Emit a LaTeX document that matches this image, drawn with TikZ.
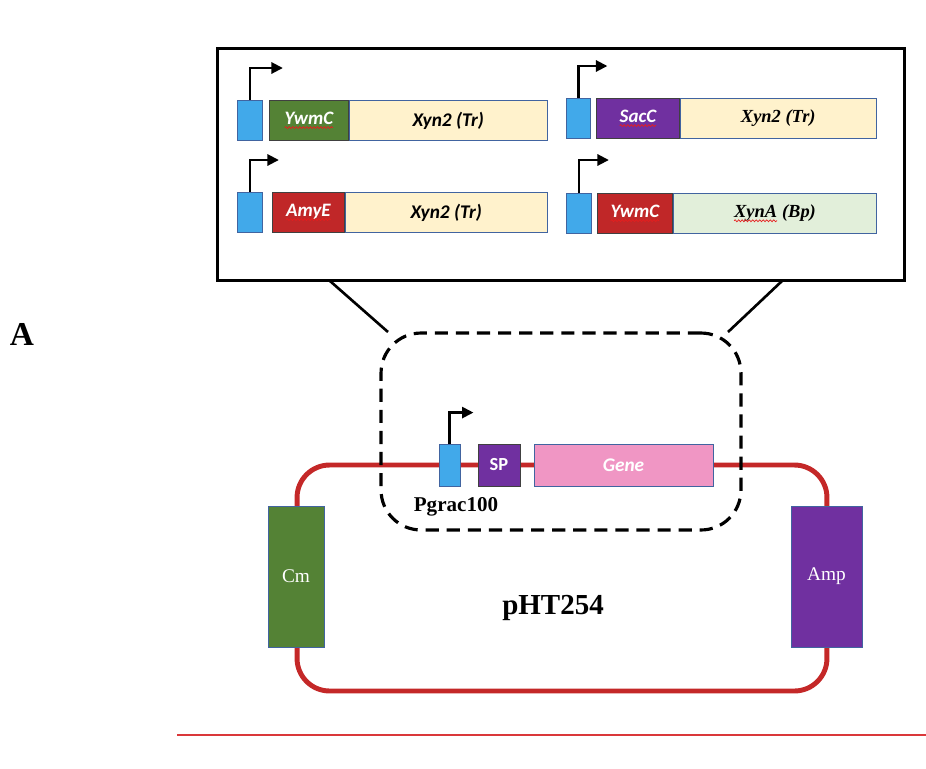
\documentclass[tikz,border=0pt]{standalone}
\usepackage{fontspec}
\setmainfont{Liberation Serif}
\newfontfamily\calibri{Carlito}
\usetikzlibrary{
  arrows.meta,
  positioning,
  decorations.pathmorphing
}
\definecolor{promcolor}{RGB}{65, 169, 234}
\definecolor{spgreen}{RGB}{84, 130, 53}
\definecolor{sppurple}{RGB}{112, 48, 160}
\definecolor{spred}{RGB}{192, 39, 40}
\definecolor{genecream}{RGB}{255, 242, 204}
\definecolor{genegreen}{RGB}{226, 239, 218}
\definecolor{genepink}{RGB}{240, 150, 196}
\definecolor{backbonecolor}{RGB}{196, 40, 40}
\definecolor{edgecolor}{RGB}{65, 100, 160}
\definecolor{spellred}{RGB}{230, 30, 30}
\definecolor{rulecolor}{RGB}{218, 56, 58}
\newcommand{\spell}[1]{\tikz[baseline=(spellword.base)]{%
  \node[spellword] (spellword) {#1};
  \draw[spellwave] ([yshift=-1.8pt]spellword.base west) -- ([yshift=-1.8pt]spellword.base east);}}
\tikzset{
spellword/.style={
  draw=none,
  fill=none,
  inner sep=0pt,
  outer sep=0pt,
  minimum width=0pt,
  minimum height=0pt,
  anchor=center
},
spellwave/.style={
  draw=spellred,
  line width=0.4pt,
  decorate,
  decoration={snake, amplitude=0.55pt, segment length=2pt}
},
partbox/.style={
  draw=edgecolor,
  line width=0.5pt,
  inner sep=0pt,
  minimum height=0.8cm
},
promoter/.style={
  partbox,
  fill=promcolor
},
signal/.style={
  partbox,
  draw=black!75,
  text=white,
  font=\calibri\bfseries\itshape\fontsize{10.8}{12}\selectfont
},
gene/.style={
  partbox,
  fill=genecream,
  font=\calibri\bfseries\itshape\fontsize{11}{13}\selectfont
},
timesgene/.style={
  gene,
  font=\bfseries\itshape\fontsize{10.5}{12}\selectfont
},
marker/.style={
  draw=edgecolor,
  line width=0.5pt,
  inner sep=0pt,
  text=white,
  font=\fontsize{11}{13}\selectfont
},
promarrow/.style={
  -{Triangle[length=2.3mm,width=2.2mm]},
  line width=1.6pt
},
panel/.style={
  draw,
  line width=1.7pt,
  inner sep=0pt
},
focus/.style={
  draw,
  line width=1.8pt,
  dash pattern=on 7.5pt off 4.5pt,
  rounded corners=0.8cm,
  inner sep=0pt
},
zoomline/.style={
  line width=1.5pt
},
backbone/.style={
  draw=backbonecolor,
  line width=2.8pt,
  rounded corners=0.65cm,
  inner sep=0pt
},
rulestyle/.style={
  draw=rulecolor,
  line width=1.2pt
}
}

\begin{document}
\begin{tikzpicture}[x=0.02cm, y=-0.02cm]
  \useasboundingbox (0,0) rectangle (926,768);

  % construct panel
  \node[panel, minimum width=13.76cm, minimum height=4.66cm] (panel) at (561,164.5) {};

  \node[promoter, minimum width=0.5cm, anchor=north west] (prom1) at (237,100) {};
  \node[signal, fill=spgreen, minimum width=1.58cm, anchor=north west] (sig1) at (269,100) {\spell{YwmC}};
  \node[gene, minimum width=3.96cm, right=0pt of sig1] (gene1) {Xyn2 (Tr)};
  \draw[promarrow] (prom1.north) -- ++(0,-32) -- ++(33,0);

  \node[promoter, minimum width=0.48cm, anchor=north west] (prom2) at (566,98) {};
  \node[signal, fill=sppurple, minimum width=1.66cm, anchor=north west] (sig2) at (596,98) {\spell{SacC}};
  \node[timesgene, minimum width=3.92cm, right=0pt of sig2] (gene2) {Xyn2 (Tr)};
  \draw[promarrow] (prom2.north) -- ++(0,-32) -- ++(29,0);

  \node[promoter, minimum width=0.5cm, anchor=north west] (prom3) at (237,192) {};
  \node[signal, fill=spred, minimum width=1.44cm, anchor=north west] (sig3) at (272,192) {\spell{AmyE}};
  \node[gene, minimum width=4.04cm, right=0pt of sig3] (gene3) {Xyn2 (Tr)};
  \draw[promarrow] (prom3.north) -- ++(0,-32) -- ++(29,0);

  \node[promoter, minimum width=0.5cm, anchor=north west] (prom4) at (566,193) {};
  \node[signal, fill=spred, minimum width=1.5cm, anchor=north west] (sig4) at (597,193) {\spell{YwmC}};
  \node[timesgene, fill=genegreen, minimum width=4.06cm, right=0pt of sig4] (gene4) {\spell{XynA} (Bp)};
  \draw[promarrow] (prom4.north) -- ++(0,-33) -- ++(30,0);

  % plasmid
  \node[backbone, minimum width=10.6cm, minimum height=4.52cm] (backbone) at (562,578) {};
  \node[focus, minimum width=7.2cm, minimum height=3.94cm] (focus) at (561,431.5) {};

  \coordinate (zoomleft) at (330,281);
  \coordinate (zoomright) at (782,281);
  \coordinate (focusleft) at (388,332);
  \coordinate (focusright) at (728,332);
  \draw[zoomline] (zoomleft) -- (focusleft);
  \draw[zoomline] (zoomright) -- (focusright);

  \node[promoter, minimum width=0.42cm, minimum height=0.84cm] (pgrac) at (449.5,465) {};
  \node[signal, fill=sppurple, minimum width=0.84cm, minimum height=0.84cm,
        font=\calibri\bfseries\fontsize{10.5}{12}\selectfont] (sp) at (499,465) {SP};
  \node[gene, fill=genepink, text=white, minimum width=3.58cm, minimum height=0.84cm] (gene) at (623.5,465) {Gene};
  \draw[promarrow] (pgrac.north) -- ++(0,-31) -- ++(24,0);
  \node[font=\bfseries\fontsize{12}{14}\selectfont] (pgraclabel) at (456,507) {Pgrac100};

  \node[marker, fill=spgreen, minimum width=1.12cm, minimum height=2.82cm] (cm) at (296,576.5) {Cm};
  \node[marker, fill=sppurple, minimum width=1.42cm, minimum height=2.82cm] (amp) at (826.5,576.5) {Amp};
  \node[font=\bfseries\fontsize{16.5}{19}\selectfont] (plasmid) at (553,608) {pHT254};

  \node[font=\bfseries\fontsize{19}{22}\selectfont] (panelA) at (22,334) {A};

  \coordinate (ruleleft) at (177,735);
  \coordinate (ruleright) at (926,735);
  \draw[rulestyle] (ruleleft) -- (ruleright);
\end{tikzpicture}
\end{document}
